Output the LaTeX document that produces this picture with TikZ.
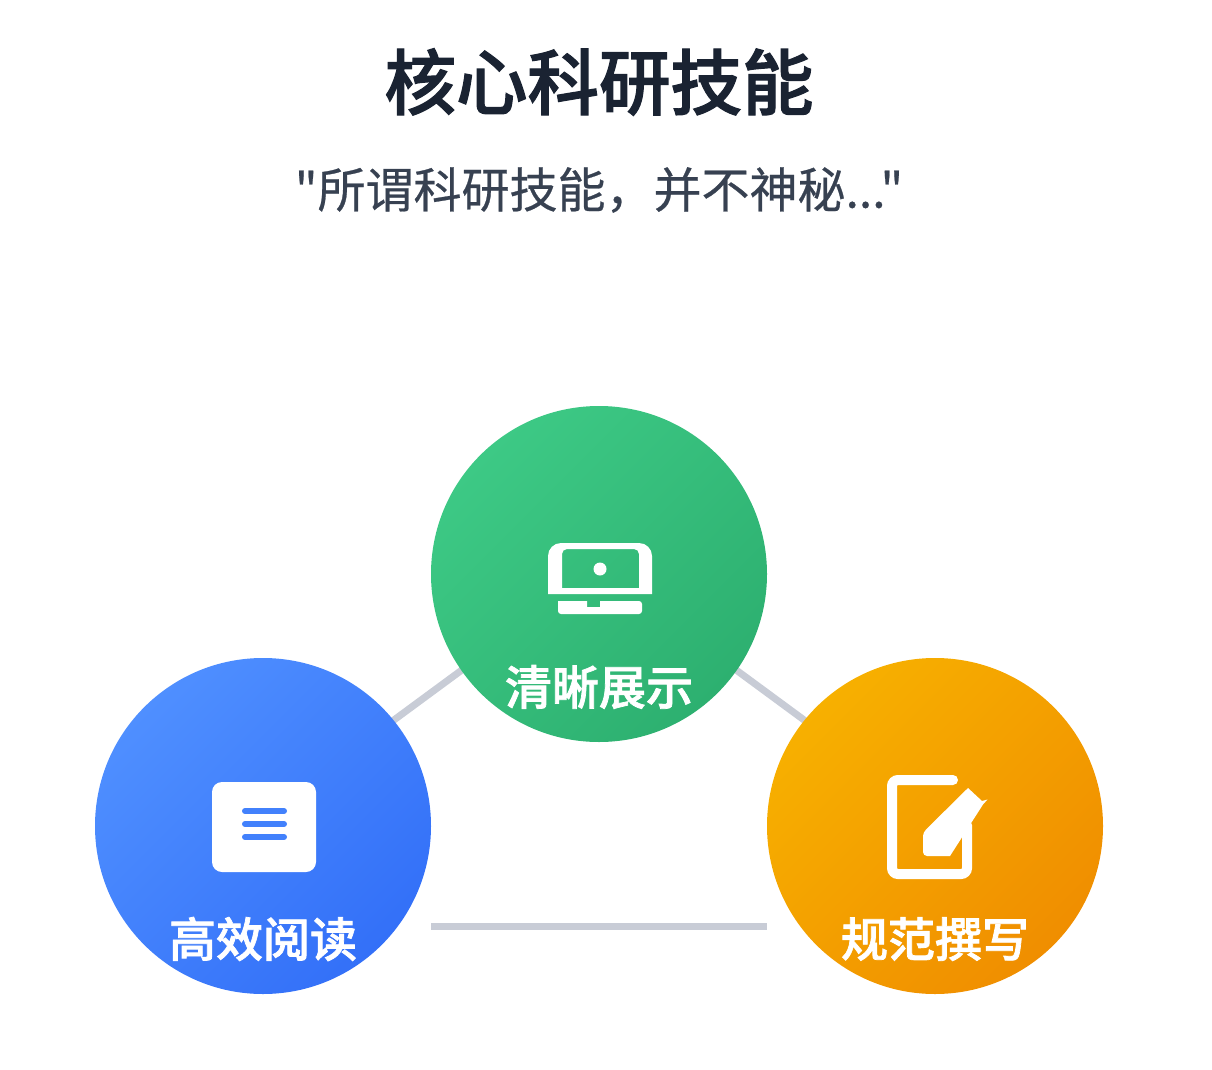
\documentclass[tikz,border=0pt]{standalone}
\usepackage{fontspec}
\setmainfont{Noto Sans CJK SC}[Ligatures=TeXOff,FakeBold=0.5]
\newfontfamily\headfont{Noto Sans CJK SC Medium}[Ligatures=TeXOff,FakeBold=1.6]
\usepackage{tikz}
\usetikzlibrary{positioning,backgrounds}
\definecolor{titleink}{HTML}{1A2332}
\definecolor{subink}{HTML}{374151}
\definecolor{linkgray}{HTML}{C8CCD6}
\definecolor{blueA}{HTML}{4F8FFF}
\definecolor{blueB}{HTML}{3370F8}
\definecolor{greenA}{HTML}{3DC985}
\definecolor{greenB}{HTML}{2DB070}
\definecolor{orangeA}{HTML}{F7B000}
\definecolor{orangeB}{HTML}{F08E00}
\tikzset{
  skill/.style 2 args={circle, minimum size=336pt, inner sep=0pt, top color=#1, bottom color=#2, shading angle=45},
  link/.style={draw=linkgray, line width=7pt},
  skilltext/.style={text=white, font=\fontsize{47}{47}\headfont, inner sep=0pt},
  iconfill/.style={fill=white, draw=none, even odd rule},
}
\begin{document}
\begin{tikzpicture}[x=1pt,y=-1pt]
  \useasboundingbox (0,0) rectangle (1212,1070);
  \node[text=titleink, font=\fontsize{71.5}{72}\headfont] (title) at (599,82) {核心科研技能};
  \node[text=subink, font=\fontsize{48}{48}\selectfont] (subtitle) at (599,190) {"所谓科研技能，并不神秘..."};

  \node[skill={greenA}{greenB}] (show) at (599,574) {};
  \node[skill={blueA}{blueB}] (read) at (263,826) {};
  \node[skill={orangeA}{orangeB}] (write) at (935,826) {};

  \begin{scope}[on background layer]
    \draw[link, shorten <=-6pt, shorten >=-6pt] (read.39) -- (show.215.6);
    \draw[link, shorten <=-6pt, shorten >=-6pt] (write.141) -- (show.-35.6);
    \draw[link] ([yshift=-100pt]read.east) -- ([yshift=-100pt]write.west);
  \end{scope}

  % laptop
  \fill[iconfill] (548,594) -- (548,556) [rounded corners=13pt] -- (548,543) -- (652,543) [sharp corners] -- (652,594) -- cycle
    (562,588) -- (562,554) [rounded corners=5pt] -- (562,549) -- (639,549) [sharp corners] -- (639,588) -- cycle
    (600,569) circle[radius=6.5];
  \fill[iconfill, rounded corners=3pt] (558,601) -- (558,614) -- (642,614) -- (642,601) [sharp corners] -- (600,601) -- (600,607) -- (587,607) -- (587,601) -- cycle;

  % document
  \fill[white, rounded corners=10pt] (212,782) rectangle (316,872);
  \foreach \y in {811,824,837}
    \draw[blueA!55!blueB, line width=6pt, line cap=round] (245,\y) -- (284,\y);

  % pen and page
  \draw[white, line width=10pt, line cap=round, rounded corners=6pt] (953,780) -- (892,780) -- (892,874) -- (967,874) -- (967,825);
  \fill[white] (968,788) -- (982,801) -- (987.5,799.5) -- (983,804.5) -- (950,856)
    [rounded corners=4pt] -- (923,856) -- (923,832) [sharp corners] -- (925.5,830) -- cycle;

  \node[skilltext] (showtext) at (599,687) {清晰展示};
  \node[skilltext] (readtext) at (263,939) {高效阅读};
  \node[skilltext] (writetext) at (935,939) {规范撰写};
\end{tikzpicture}
\end{document}
